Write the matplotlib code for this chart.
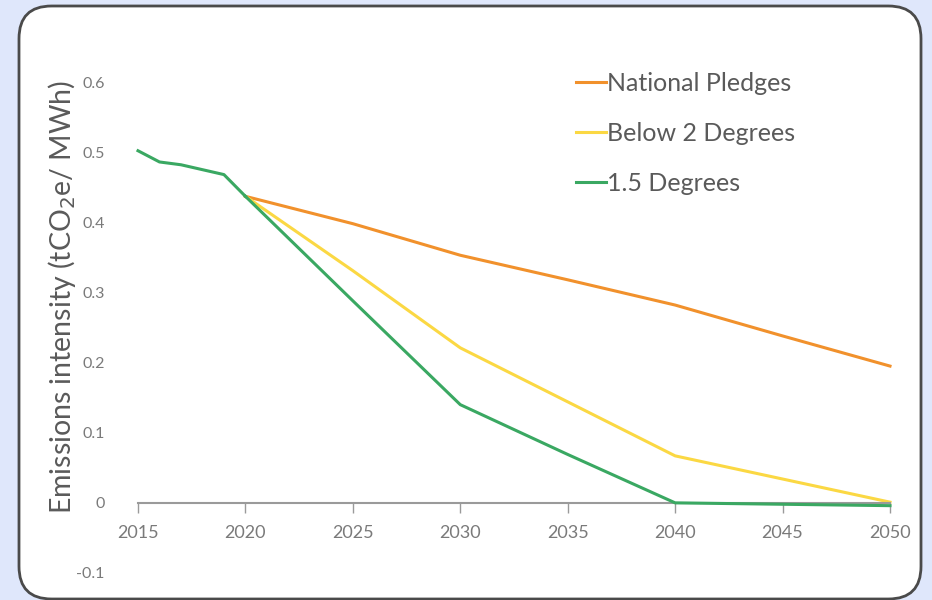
"""
Emissions intensity pathways, national pledges vs 2 and 1.5 degree scenarios.
"""

import matplotlib.pyplot as plt
from matplotlib.patches import FancyBboxPatch

plt.rcParams['font.family'] = ['Lato', 'DejaVu Sans']

# * Data
hist_years = [2015, 2016, 2017, 2018, 2019, 2020]
hist_vals = [0.502, 0.486, 0.482, 0.475, 0.468, 0.437]

proj_years = [2020, 2025, 2030, 2035, 2040, 2045, 2050]
pledges = [0.437, 0.398, 0.353, 0.318, 0.282, 0.238, 0.195]
below_2 = [0.437, 0.331, 0.221, 0.144, 0.067, 0.034, 0.001]
deg_15 = [0.437, 0.288, 0.140, 0.069, 0.000, -0.002, -0.004]

x_ticks = [2015, 2020, 2025, 2030, 2035, 2040, 2045, 2050]
y_ticks = [-0.1, 0, 0.1, 0.2, 0.3, 0.4, 0.5, 0.6]
y_labels = ['-0.1', '0', '0.1', '0.2', '0.3', '0.4', '0.5', '0.6']

ORANGE = '#f1912c'
YELLOW = '#fbd843'
GREEN = '#3aa862'
GREY = '#7a7a7a'

fig = plt.figure(figsize=(9.32, 6), dpi=100)
fig.patch.set_facecolor('#dfe7fb')

# * White rounded card behind the chart
card = FancyBboxPatch((19 / 932, 1 / 600), 902 / 932, 593 / 600,
                      boxstyle='round,pad=0,rounding_size=0.035',
                      transform=fig.transFigure, facecolor='white',
                      edgecolor='#4a4a4a', linewidth=2, zorder=-1,
                      mutation_aspect=932 / 600)
fig.patches.append(card)

ax = fig.add_axes([138 / 932, (600 - 573) / 600, (890 - 138) / 932, (573 - 82) / 600])
ax.set_facecolor('none')

ax.plot(proj_years, pledges, color=ORANGE, lw=2.2, label='National Pledges', clip_on=False)
ax.plot(proj_years, below_2, color=YELLOW, lw=2.2, label='Below 2 Degrees', clip_on=False)
ax.plot(proj_years, deg_15, color=GREEN, lw=2.2, label='1.5 Degrees', clip_on=False, zorder=3)
ax.plot(hist_years, hist_vals, color=GREEN, lw=2.2, clip_on=False, zorder=3)

ax.set_xlim(2015, 2050)
ax.set_ylim(-0.1, 0.6)

# * Only the zero line as x axis
for side in ['top', 'right', 'left']:
    ax.spines[side].set_visible(False)
ax.spines['bottom'].set_position(('data', 0))
ax.spines['bottom'].set_color('#9a9a9a')
ax.spines['bottom'].set_linewidth(1.5)

ax.set_xticks(x_ticks)
ax.set_xticklabels([str(y) for y in x_ticks])
ax.tick_params(axis='x', colors='#9a9a9a', length=7, width=1, pad=9,
               labelsize=13, labelcolor=GREY)
ax.set_yticks(y_ticks)
ax.set_yticklabels(y_labels)
ax.tick_params(axis='y', length=0, pad=24, labelsize=11.5, labelcolor=GREY)

ax.set_ylabel('Emissions intensity (tCO$_2$e/ MWh)', fontsize=20.5, color='#5a5a5a')
ax.yaxis.set_label_coords(-0.080, 0.562)

leg = ax.legend(loc='upper left', bbox_to_anchor=(0.552, 1.066), frameon=False,
                handlelength=1.2, handletextpad=0.05, labelspacing=1.07,
                fontsize=18)
for text in leg.get_texts():
    text.set_color('#5a5a5a')

plt.savefig('out.png', dpi=100, facecolor=fig.get_facecolor())
